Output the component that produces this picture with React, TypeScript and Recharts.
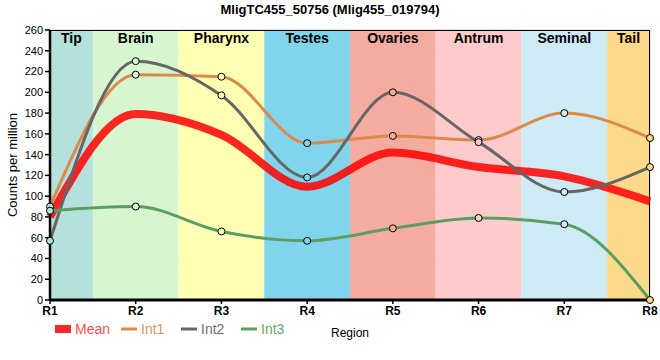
import React from 'react';
import { LineChart, Line, XAxis, YAxis, CartesianGrid, ReferenceArea, Legend } from 'recharts';

const regions = ['R1', 'R2', 'R3', 'R4', 'R5', 'R6', 'R7', 'R8'];
const bandNames = ['Tip', 'Brain', 'Pharynx', 'Testes', 'Ovaries', 'Antrum', 'Seminal', 'Tail'];
const bandColors = ['#b4e1dc', '#d7f6cf', '#ffffb4', '#80d5ec', '#f5aca0', '#fdcbcb', '#ceeaf4', '#fdd98b'];
const meanValues = [80, 179, 159, 109, 142, 128, 119, 95];
const int1Values = [90, 217, 215, 151, 158, 154, 180, 156];
const int2Values = [57, 230, 197, 118, 200, 152, 104, 128];
const int3Values = [86, 90, 66, 57, 69, 79, 73, 0];
const yTicks = [0, 20, 40, 60, 80, 100, 120, 140, 160, 180, 200, 220, 240, 260];
const xTicks = regions.map((_, i) => i + 1);

const data = regions.map((r, i) => ({
  x: i + 1,
  region: r,
  Mean: meanValues[i],
  Int1: int1Values[i],
  Int2: int2Values[i],
  Int3: int3Values[i],
}));

const series = [
  { key: 'Mean', color: 'rgba(255,0,0,0.85)', text: '#ff4d4d', width: 8, dots: false },
  { key: 'Int1', color: '#dc8a4c', text: '#e0955c', width: 3, dots: true },
  { key: 'Int2', color: '#666666', text: '#6e6e6e', width: 3, dots: true },
  { key: 'Int3', color: '#5a9e62', text: '#5fa766', width: 3, dots: true },
];

const font = '"Liberation Sans", Arial, sans-serif';

const renderDot = (props: any) => {
  const { cx, cy, index, key } = props;
  if (cx == null || cy == null) return <g key={key} />;
  return (
    <circle key={key ?? `d${index}`} cx={cx} cy={cy} r={3.5} fill={bandColors[index]} stroke="#000" strokeWidth={1} />
  );
};

const renderLegend = () => (
  <div style={{ display: 'flex', fontFamily: font, fontSize: 14 }}>
    {series.map((s) => (
      <div key={s.key} style={{ display: 'flex', alignItems: 'center', width: s.key === 'Mean' ? 66 : 60 }}>
        <svg width={17} height={10} style={{ marginRight: 3 }}>
          {s.key === 'Mean' ? (
            <rect x={0} y={1} width={16} height={8} fill={s.color} />
          ) : (
            <line x1={0} x2={16} y1={5} y2={5} stroke={s.color} strokeWidth={3} />
          )}
        </svg>
        <span style={{ color: s.text }}>{s.key}</span>
      </div>
    ))}
  </div>
);

export default function App() {
  return (
    <div style={{ position: 'absolute', left: 0, top: 0, width: 660, height: 360, fontFamily: font, background: '#fff' }}>
      <div
        style={{
          position: 'absolute',
          top: 2,
          left: 0,
          width: 660,
          textAlign: 'center',
          fontWeight: 'bold',
          fontSize: 13,
          lineHeight: '16px',
        }}
      >
        MligTC455_50756 (Mlig455_019794)
      </div>
      <LineChart width={660} height={360} data={data} margin={{ top: 30, right: 10, bottom: 20, left: 0 }}>
        {bandNames.map((n, i) => (
          <ReferenceArea
            key={n}
            x1={Math.max(1, i + 0.5)}
            x2={Math.min(regions.length, i + 1.5)}
            y1={0}
            y2={260}
            fill={bandColors[i]}
            fillOpacity={1}
            stroke="none"
            ifOverflow="hidden"
            label={{ value: n, position: 'insideTop', offset: 3, fontWeight: 'bold', fontSize: 14, fill: '#000', fontFamily: font }}
          />
        ))}
        <CartesianGrid stroke="#c8c8c8" strokeWidth={1} fill="none" />
        <ReferenceArea x1={1} x2={regions.length} y1={0} y2={260} fill="none" stroke="#000" strokeWidth={2} ifOverflow="hidden" />
        <XAxis
          dataKey="x"
          type="number"
          domain={[1, regions.length]}
          ticks={xTicks}
          tickFormatter={(v: number) => regions[v - 1]}
          interval={0}
          height={40}
          axisLine={{ stroke: '#000', strokeWidth: 3 }}
          tickLine={{ stroke: '#000', strokeWidth: 1.5 }}
          tickSize={4}
          tick={{ fill: '#000', fontSize: 12, fontWeight: 'bold', fontFamily: font }}
          label={{ value: 'Region', position: 'insideBottom', offset: 3, fill: '#000', fontSize: 12, fontFamily: font }}
        />
        <YAxis
          domain={[0, 260]}
          ticks={yTicks}
          interval={0}
          width={50}
          axisLine={{ stroke: '#000', strokeWidth: 2.5 }}
          tickLine={{ stroke: '#000', strokeWidth: 1.5 }}
          tickSize={5}
          tick={{ fill: '#000', fontSize: 11, fontFamily: font }}
          label={{ value: 'Counts per million', angle: -90, position: 'insideLeft', offset: 12, fill: '#000', fontSize: 13, fontFamily: font, style: { textAnchor: 'middle' } }}
        />
        {series.map((s) => (
          <Line
            key={s.key}
            type="monotone"
            dataKey={s.key}
            stroke={s.color}
            strokeWidth={s.width}
            dot={s.dots ? renderDot : false}
            activeDot={false}
            isAnimationActive={false}
          />
        ))}
        <Legend
          verticalAlign="middle"
          align="center"
          layout="horizontal"
          content={renderLegend}
          wrapperStyle={{ position: 'absolute', left: 55, top: 321, width: 270 }}
        />
      </LineChart>
    </div>
  );
}
